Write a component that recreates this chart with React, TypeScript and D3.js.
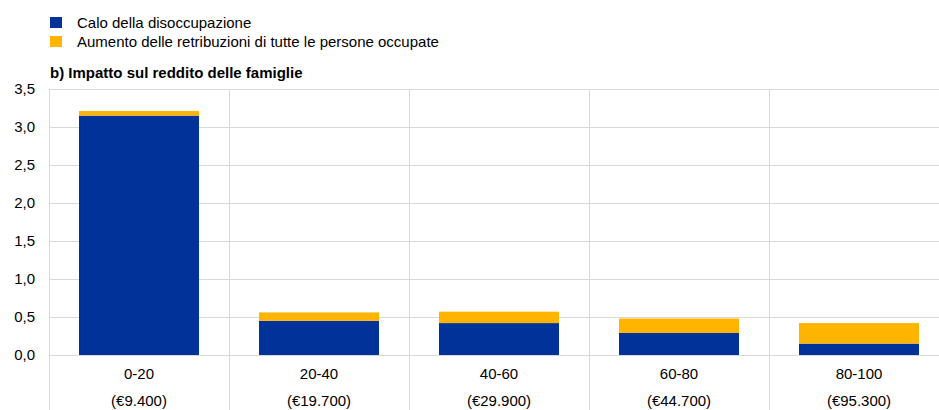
import * as d3 from 'd3';
import { useEffect, useRef } from 'react';

const categories = ['0-20', '20-40', '40-60', '60-80', '80-100'];
const incomes = ['(€9.400)', '(€19.700)', '(€29.900)', '(€44.700)', '(€95.300)'];
const unemployment = [3.15, 0.45, 0.42, 0.29, 0.15];
const wages = [0.06, 0.11, 0.15, 0.19, 0.27];
const seriesNames = [
  'Calo della disoccupazione',
  'Aumento delle retribuzioni di tutte le persone occupate',
];
const yTicks = [0, 0.5, 1, 1.5, 2, 2.5, 3, 3.5];

const colours = ['#003299', '#ffb400'];
const font = '"Liberation Sans", Arial, sans-serif';

export default function App() {
  const ref = useRef<SVGSVGElement>(null);

  useEffect(() => {
    const svg = d3.select(ref.current);
    svg.selectAll('*').remove();

    const width = 939;
    const height = 410;
    const margin = { left: 49, right: -10, top: 89, bottom: 55 };

    const x = d3
      .scaleBand(categories, [margin.left, width - margin.right])
      .paddingInner(1 / 3)
      .paddingOuter(1 / 6);
    const y = d3.scaleLinear([0, 3.5], [height - margin.bottom, margin.top]);
    const step = x.step();

    // legend
    const legend = svg.append('g').attr('font-family', font).attr('font-size', 15);
    seriesNames.forEach((name, i) => {
      legend
        .append('rect')
        .attr('x', 50)
        .attr('y', 17 + i * 19)
        .attr('width', 12)
        .attr('height', 11)
        .attr('fill', colours[i]);
      legend
        .append('text')
        .attr('x', 77)
        .attr('y', 28 + i * 19)
        .attr('fill', '#000')
        .text(name);
    });

    svg
      .append('text')
      .attr('x', 50)
      .attr('y', 78)
      .attr('font-family', font)
      .attr('font-size', 15)
      .attr('font-weight', 'bold')
      .text('b) Impatto sul reddito delle famiglie');

    // horizontal grid
    svg
      .append('g')
      .selectAll('line')
      .data(yTicks)
      .join('line')
      .attr('x1', margin.left)
      .attr('x2', width)
      .attr('y1', (d) => Math.round(y(d)) + 0.5)
      .attr('y2', (d) => Math.round(y(d)) + 0.5)
      .attr('stroke', '#d9d9d9');

    // vertical separators
    const seps = d3.range(categories.length + 1).map((i) => margin.left + i * step);
    svg
      .append('g')
      .selectAll('line')
      .data(seps)
      .join('line')
      .attr('x1', (d) => Math.round(d) + 0.5)
      .attr('x2', (d) => Math.round(d) + 0.5)
      .attr('y1', y(3.5))
      .attr('y2', height)
      .attr('stroke', '#d9d9d9');

    // y labels
    svg
      .append('g')
      .attr('font-family', font)
      .attr('font-size', 15)
      .selectAll('text')
      .data(yTicks)
      .join('text')
      .attr('x', 35)
      .attr('y', (d) => y(d) + 5)
      .attr('text-anchor', 'end')
      .text((d) => d3.format('.1f')(d).replace('.', ','));

    // stacked bars
    const rows = categories.map((c, i) => ({ c, a: unemployment[i], b: wages[i] }));
    const stack = d3.stack<any>().keys(['a', 'b'])(rows);
    stack.forEach((s, si) =>
      svg
        .append('g')
        .attr('fill', colours[si])
        .selectAll('rect')
        .data(s)
        .join('rect')
        .attr('x', (d) => x(d.data.c)!)
        .attr('width', x.bandwidth())
        .attr('y', (d) => y(d[1]))
        .attr('height', (d) => y(d[0]) - y(d[1]))
    );

    // x labels
    const xl = svg.append('g').attr('font-family', font).attr('font-size', 15).attr('text-anchor', 'middle');
    categories.forEach((c, i) => {
      const cx = x(c)! + x.bandwidth() / 2;
      xl.append('text').attr('x', cx).attr('y', 379).text(c);
      xl.append('text').attr('x', cx).attr('y', 406).text(incomes[i]);
    });
  }, []);

  return (
    <svg
      ref={ref}
      width={939}
      height={410}
      style={{ position: 'absolute', left: 0, top: 0, background: '#fff' }}
    />
  );
}
